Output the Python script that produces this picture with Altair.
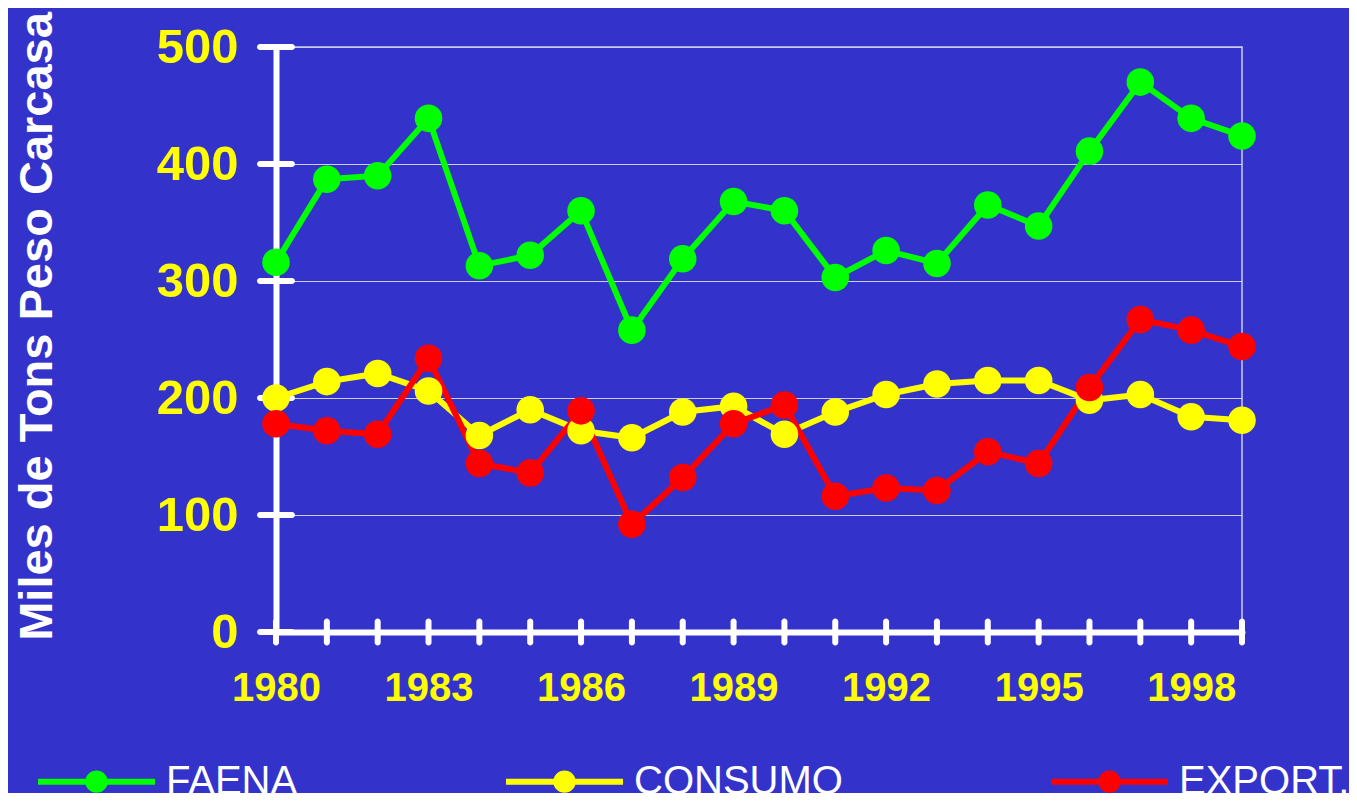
import altair as alt
import pandas as pd

years = list(range(1980, 2000))
faena = [316, 387, 390, 439, 313, 322, 360, 258, 319, 368, 360, 303, 326, 315, 365, 347, 411, 470, 439, 424]
consumo = [200, 214, 221, 206, 168, 190, 172, 166, 188, 193, 169, 188, 203, 212, 215, 215, 198, 203, 184, 181]
export = [178, 172, 169, 234, 144, 136, 189, 92, 132, 178, 194, 116, 123, 121, 154, 144, 209, 267, 258, 244]
series_names = ["FAENA", "CONSUMO", "EXPORT."]
series_colors = ["#00FF00", "#FFFF00", "#FF0000"]
y_ticks = [0, 100, 200, 300, 400, 500]
x_labels = [1980, 1983, 1986, 1989, 1992, 1995, 1998]

rows = []
for name, vals in zip(series_names, [faena, consumo, export]):
    for yr, v in zip(years, vals):
        rows.append({"year": yr, "value": v, "series": name})
df = pd.DataFrame(rows)

BG = "#3333CC"
YEL = "#FFFF00"
FONT = "Liberation Sans"

xscale = alt.Scale(domain=[1980, 1999], nice=False, zero=False)
yscale = alt.Scale(domain=[0, 500], nice=False)

x_enc = alt.X(
    "year:Q", scale=xscale,
    axis=alt.Axis(values=x_labels, format="d", ticks=False, grid=False,
                  domainColor="white", domainWidth=6, domainCap="round",
                  labelColor=YEL, labelFont=FONT, labelFontWeight="bold",
                  labelFontSize=40, labelPadding=36, labelFlush=False,
                  title=None),
)
y_enc = alt.Y(
    "value:Q", scale=yscale,
    axis=alt.Axis(values=y_ticks, ticks=False, grid=True, gridColor="#CCCCEE",
                  gridWidth=1, domainColor="white", domainWidth=6,
                  labelColor=YEL, labelFont=FONT, labelFontWeight="bold",
                  labelFontSize=49, labelPadding=38,
                  title="Miles de Tons Peso Carcasa", titleColor="white",
                  titleFont=FONT, titleFontWeight="bold", titleFontSize=47,
                  titleAngle=270, titleBaseline="middle", titleAlign="center",
                  titleX=-239, titleY=279),
)

sym_path = "M-1,0H1M0.14,0A0.14,0.14,0,1,1,-0.14,0A0.14,0.14,0,1,1,0.14,0Z"


def make_legend():
    return alt.Legend(
        title=None, orient="none", direction="horizontal", columns=3,
        legendX=-241, legendY=673, padding=0,
        symbolType=sym_path, symbolSize=13689, symbolStrokeWidth=6,
        labelColor="white", labelFont=FONT, labelFontSize=40, labelOffset=8,
        labelLimit=600, columnPadding=196, labelBaseline="middle",
    )


color_scale = alt.Scale(domain=series_names, range=series_colors)

lines = alt.Chart(df).mark_line(strokeWidth=6).encode(
    x=x_enc, y=y_enc,
    color=alt.Color("series:N", scale=color_scale, legend=make_legend()),
    detail="series:N",
)
points = alt.Chart(df).mark_point(filled=True, size=760, opacity=1, strokeWidth=0).encode(
    x=alt.X("year:Q", scale=xscale),
    y=alt.Y("value:Q", scale=yscale),
    fill=alt.Fill("series:N", scale=color_scale, legend=make_legend()),
    stroke=alt.Stroke("series:N", scale=color_scale, legend=make_legend()),
)

ytick_df = pd.DataFrame({"v": y_ticks})
xtick_df = pd.DataFrame({"year": years})
yticks = alt.Chart(ytick_df).mark_tick(orient="horizontal", color="white", size=38,
                                       thickness=6, cornerRadius=3, opacity=1).encode(
    y=alt.Y("v:Q", scale=yscale), x=alt.datum(1980),
)
xticks = alt.Chart(xtick_df).mark_tick(orient="vertical", color="white", size=27,
                                       thickness=6, cornerRadius=3, opacity=1).encode(
    x=alt.X("year:Q", scale=xscale), y=alt.datum(0),
)

chart = alt.layer(yticks, xticks, lines, points).properties(
    width=966, height=585,
    autosize=alt.AutoSizeParams(type="none"),
    padding={"left": 268, "top": 39, "right": 107, "bottom": 161},
    background=BG,
).configure_view(stroke="#CCCCEE", strokeWidth=1.5)

chart.save("out.html", embed_options={"renderer": "svg", "actions": False})
